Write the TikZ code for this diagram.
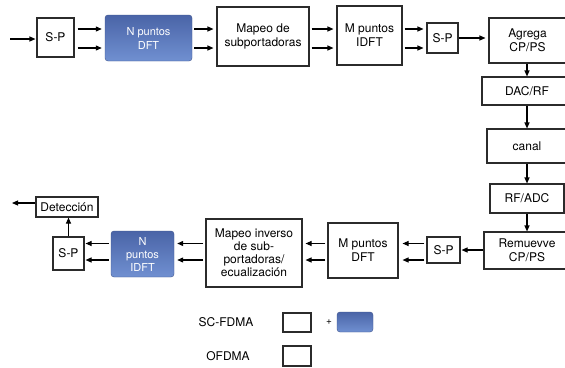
\documentclass[tikz,border=0pt]{standalone}
\usepackage{fontspec}
\setmainfont{TeX Gyre Heros}
\usetikzlibrary{arrows.meta,calc}
\definecolor{edge}{HTML}{2B2B2B}
\definecolor{bluetop}{HTML}{4A64A7}
\definecolor{bluebot}{HTML}{7090D1}
\begin{document}
\begin{tikzpicture}[x=1pt,y=-1pt,
  blk/.style={draw=edge, line width=1.1pt, fill=white, align=center, inner sep=1pt,
              font=\fontsize{12}{14}\selectfont},
  dsp/.style={rounded corners=3pt, top color=bluetop, bottom color=bluebot,
              draw=bluetop!85!black, line width=0.4pt, text=white, align=center,
              inner sep=1pt, font=\fontsize{11}{14}\selectfont},
  lbl/.style={inner sep=0pt, font=\fontsize{12}{14}\selectfont},
  arr/.style={draw=black, line width=1.1pt, -{Triangle[length=6pt,width=5pt]},
              shorten <=2pt, shorten >=3pt},
  varr/.style={draw=black, line width=1.1pt, -{Triangle[length=6pt,width=5pt]}},
  sz/.style 2 args={minimum width=#1, minimum height=#2},
]
\clip (0,0) rectangle (565,367);
\fill[white] (0,0) rectangle (565,367);

% transmitter chain
\node[blk, sz={37pt}{39pt}] (sp1)   at (55.5,37.5) {S-P};
\node[dsp, sz={87pt}{46pt}] (dft)   at (148.5,38)  {N puntos\\DFT};
\node[blk, sz={92pt}{59pt}] (map)   at (263,36.5)  {Mapeo de\\subportadoras};
\node[blk, sz={65pt}{59pt}] (idft)  at (369.5,35.5){M puntos\\IDFT};
\node[blk, sz={31pt}{30pt}] (sp2)   at (442.5,38)  {S-P};
\node[blk, sz={77pt}{45pt}] (agr)   at (527.5,40.5){Agrega\\CP/PS};
\node[blk, sz={90pt}{28pt}] (dac)   at (527,91)    {DAC/RF};
\node[blk, sz={80pt}{34pt}] (canal) at (527,146)   {canal};
\node[blk, sz={74pt}{29pt}] (rfadc) at (527,198.5) {RF/ADC};
% receiver chain
\node[blk, sz={86pt}{37pt}] (rem)   at (527,250.5) {Remuevve\\CP/PS};
\node[blk, sz={33pt}{26pt}] (sp3)   at (443.5,250) {S-P};
\node[blk, sz={70pt}{55pt}] (mdft)  at (363,250.5) {M puntos\\DFT};
\node[blk, sz={96pt}{68pt}, font=\fontsize{12}{13}\selectfont] (mapinv) at (254,253)
     {Mapeo inverso\\de sub-\\portadoras/\\ecualización};
\node[dsp, sz={63pt}{46pt}, font=\fontsize{11}{13}\selectfont] (nidft) at (142.5,254)
     {N\\puntos\\IDFT};
\node[blk, sz={31pt}{33pt}] (sp4)   at (68.5,253.5){S-P};
\node[blk, sz={62pt}{20pt}] (det)   at (67,207)    {Detección};

% legend
\node[lbl] (lsc) at (226,322) {SC-FDMA};
\node[blk, sz={28pt}{19pt}] (lbox1) at (297,322.5) {};
\node[lbl, font=\fontsize{10}{11}\selectfont] (lplus) at (329,322) {+};
\node[dsp, sz={36pt}{20pt}] (lblue) at (355,322) {};
\node[lbl] (lof) at (228,356) {OFDMA};
\node[blk, sz={28pt}{20pt}] (lbox2) at (297,356) {};

% rows of the parallel connectors and free ends
\coordinate (ra) at (0,29);
\coordinate (rb) at (0,48);
\coordinate (rc) at (0,243.5);
\coordinate (rd) at (0,260);
\coordinate (in0) at (10,39);
\coordinate (out0) at (12,203);

% transmitter connectors
\draw[arr, shorten <=0pt, shorten >=1pt] (in0) -- (sp1.west |- in0);
\foreach \r in {ra,rb} {
  \draw[arr, shorten <=3pt, shorten >=3pt] (sp1.east |- \r) -- (dft.west |- \r);
  \draw[arr] (dft.east |- \r) -- (map.west |- \r);
  \draw[arr] (map.east |- \r) -- (idft.west |- \r);
  \draw[arr] (idft.east |- \r) -- (sp2.west |- \r);
}
\draw[arr, shorten <=0pt] (sp2.east) -- (agr.west |- sp2.east);
\draw[varr] (agr.south -| dac.north) -- (dac.north);
\draw[varr] (dac.south) -- (canal.north);
\draw[varr] (canal.south) -- (rfadc.north);
\draw[varr] (rfadc.south) -- (rem.north);

% receiver connectors
\draw[varr, shorten >=1pt] (rem.west |- sp3.east) -- (sp3.east);
\foreach \r in {rc,rd} {
  \draw[arr, shorten >=4pt] (sp3.west |- \r) -- (mdft.east |- \r);
  \draw[arr] (mdft.west |- \r) -- (mapinv.east |- \r);
  \draw[arr] (mapinv.west |- \r) -- (nidft.east |- \r);
  \draw[arr, shorten >=1pt] (nidft.west |- \r) -- (sp4.east |- \r);
}
\draw[varr] (sp4.north) -- (sp4.north |- det.south);
\draw[varr] (det.west |- out0) -- (out0);
\end{tikzpicture}
\end{document}
